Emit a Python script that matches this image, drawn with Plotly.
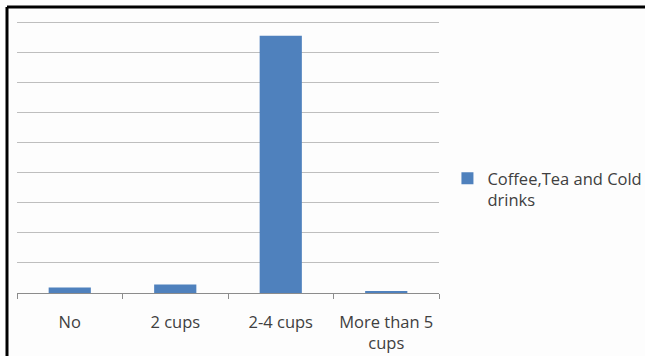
import plotly.graph_objects as go

categories = ["No", "2 cups", "2-4 cups", "More than 5<br>cups"]
values = [1.8, 2.8, 85.4, 0.5]
series_name = "Coffee,Tea and Cold<br>drinks"

fig = go.Figure()
fig.add_trace(go.Bar(x=categories, y=values, name=series_name,
                     marker=dict(color="#4F81BD", line=dict(width=0)),
                     showlegend=True))

fig.update_layout(
    width=645, height=356,
    margin=dict(l=17, r=206, t=19, b=63, autoexpand=False),
    paper_bgcolor="#FDFDFD", plot_bgcolor="#FDFDFD",
    font=dict(family="Open Sans", size=16.5, color="#404040"),
    bargap=0.6,
    showlegend=True,
    legend=dict(x=1.02, xanchor="left", y=0.482, yanchor="top",
                valign="top", font=dict(size=16.5, color="#404040"),
                bgcolor="rgba(0,0,0,0)"),
    xaxis=dict(showgrid=False, showline=True, linecolor="#8C8C8C", linewidth=1,
               ticks="outside", tickson="boundaries", ticklen=5, tickcolor="#8C8C8C",
               ticklabelstandoff=14, tickangle=0, automargin=False,
               tickfont=dict(size=16.5, color="#404040")),
    yaxis=dict(range=[0, 91], tickvals=[10, 20, 30, 40, 50, 60, 70, 80, 90],
               showgrid=True, gridcolor="#BEBEBE", gridwidth=1, automargin=False,
               showticklabels=False, zeroline=False, showline=False, ticks=""),
    shapes=[
        dict(type="line", xref="paper", yref="paper", x0=-0.0237, x1=-0.0237, y0=-0.3, y1=1.044,
             line=dict(color="black", width=3)),
        dict(type="line", xref="paper", yref="paper", x0=-0.0237, x1=1.6, y0=1.044, y1=1.044,
             line=dict(color="black", width=3)),
    ],
)

fig.write_html("out.html")
